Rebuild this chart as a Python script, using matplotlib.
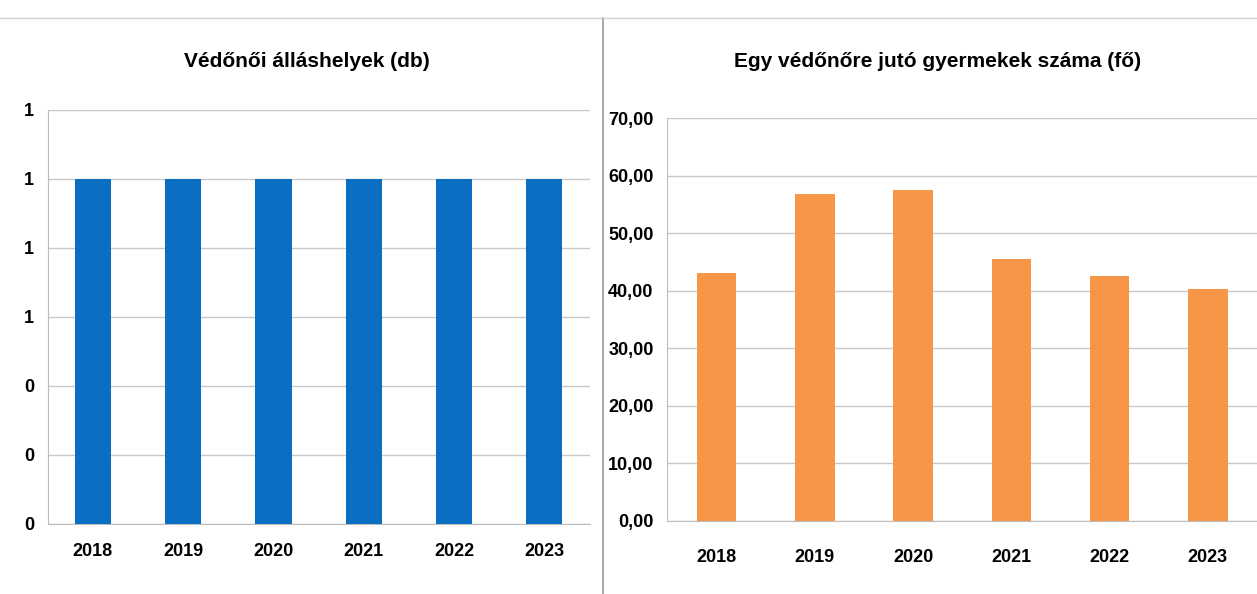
import matplotlib.pyplot as plt
from matplotlib.ticker import FuncFormatter
from matplotlib.lines import Line2D
from matplotlib import font_manager

years = ["2018", "2019", "2020", "2021", "2022", "2023"]
allashelyek = [1, 1, 1, 1, 1, 1]
gyermek_per_vedono = [43.1, 56.8, 57.6, 45.5, 42.5, 40.3]

names = {f.name for f in font_manager.fontManager.ttflist}
narrow = 'Liberation Sans Narrow' in names
plt.rcParams['font.family'] = (['Liberation Sans Narrow'] if narrow else []) + ['Liberation Sans', 'DejaVu Sans']
fs = 16 if narrow else 13

fig = plt.figure(figsize=(12.57, 5.94), dpi=100)

# left chart: posts
ax1 = fig.add_axes([0.038, 0.118, 0.431, 0.697])
ax1.bar(years, allashelyek, width=0.4, color='#0A6FC2', zorder=3)
ax1.set_ylim(0, 1.2)
ax1.set_yticks([0, 0.2, 0.4, 0.6, 0.8, 1.0, 1.2])
ax1.yaxis.set_major_formatter(FuncFormatter(lambda v, p: f"{v:.0f}"))

# right chart: children per nurse
ax2 = fig.add_axes([0.531, 0.123, 0.469, 0.678])
ax2.bar(years, gyermek_per_vedono, width=0.4, color='#F79646', zorder=3)
ax2.set_ylim(0, 70)
ax2.set_yticks(range(0, 71, 10))
ax2.yaxis.set_major_formatter(FuncFormatter(lambda v, p: f"{v:.2f}".replace(".", ",")))

for ax in (ax1, ax2):
    ax.set_xlim(-0.5, 5.5)
    ax.grid(axis='y', color='#c8c8c8', linewidth=1, zorder=0)
    for s in ('top', 'right'):
        ax.spines[s].set_visible(False)
    ax.spines['left'].set_color('#bdbdbd')
    ax.spines['bottom'].set_color('#bdbdbd')
    ax.tick_params(axis='y', length=0, labelsize=fs, pad=10)
    ax.tick_params(axis='x', length=0, labelsize=fs, pad=14)
    for lab in ax.get_xticklabels() + ax.get_yticklabels():
        lab.set_fontweight('bold')
ax2.tick_params(axis='x', pad=20)

fig.text(0.244, 0.896, "Védőnői álláshelyek (db)", fontsize=fs + 2, fontweight='bold',
         ha='center', va='center')
fig.text(0.746, 0.896, "Egy védőnőre jutó gyermekek száma (fő)", fontsize=fs + 2, fontweight='bold',
         ha='center', va='center')

# separator between the two charts
fig.add_artist(Line2D([0.48, 0.48], [0.0, 0.97], transform=fig.transFigure, color='#9a9a9a', linewidth=1.2))
fig.add_artist(Line2D([0.0, 1.0], [0.97, 0.97], transform=fig.transFigure, color='#d0d0d0', linewidth=1))

plt.savefig("out.png", dpi=100)
